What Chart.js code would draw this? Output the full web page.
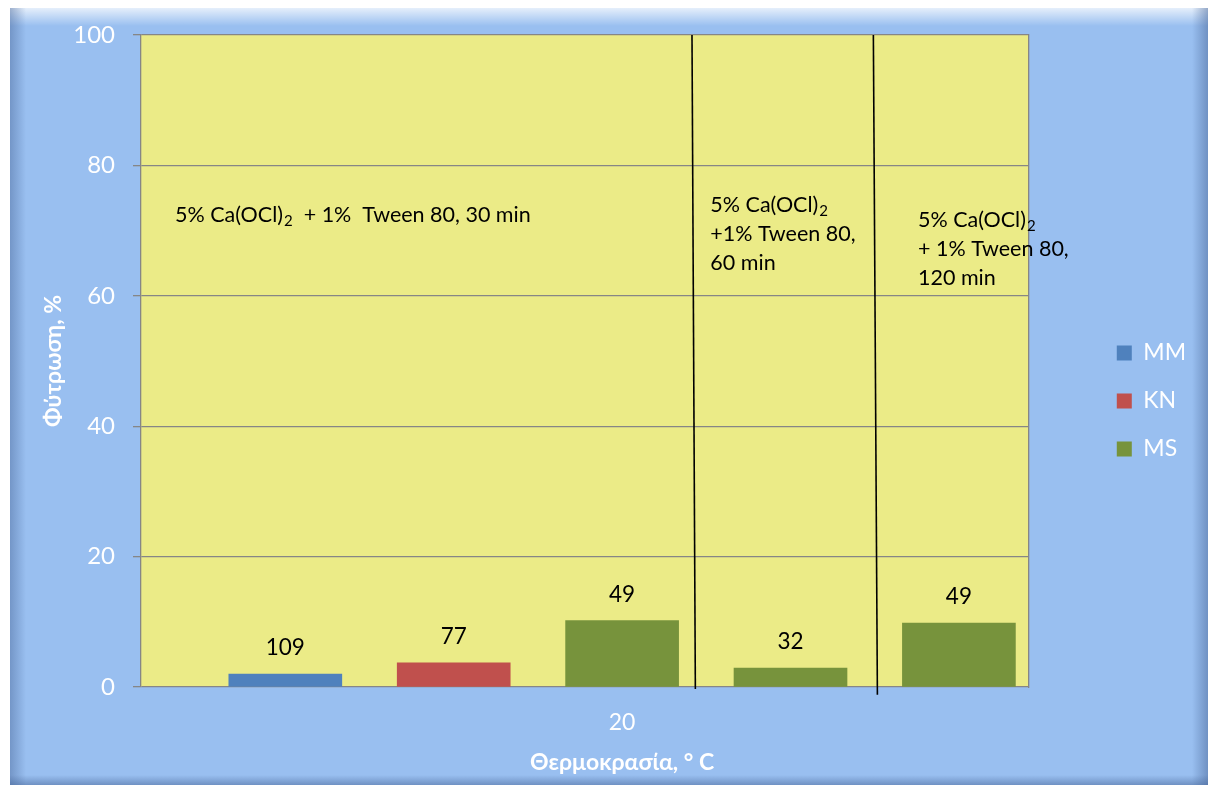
<!DOCTYPE html>
<html>
<head>
<meta charset="utf-8">
<script src="https://cdn.jsdelivr.net/npm/chart.js@4.4.1/dist/chart.umd.min.js"></script>
<style>
  html, body { margin: 0; padding: 0; background: #ffffff; }
  #wrap { width: 1213px; height: 787px; }
</style>
</head>
<body>
<div id="wrap"><canvas id="c" width="1213" height="787"></canvas></div>
<script>
// ---------- data ----------
const categories = ['20'];
const seriesNames = ['MM', 'KN', 'MS'];
const mmValues = [2.0];
const knValues = [3.7];
const msValues = [10.2, 2.9, 9.8];
const mmCounts = [109];
const knCounts = [77];
const msCounts = [49, 32, 49];
const mmSlots = [1];
const knSlots = [2];
const msSlots = [3, 4, 5];
const categorySlot = 3;
const yTicks = [0, 20, 40, 60, 80, 100];
const xTitle = 'Θερμοκρασία, ° C';
const yTitle = 'Φύτρωση, %';

// annotation texts (treatment descriptions)
const notes = [
  { x: 0.345, y: 72.4, lines: [['5% Ca(OCl)', '2', '  + 1%  Tween 80, 30 min']] },
  { x: 3.524, y: 73.9, lines: [['5% Ca(OCl)', '2', ''], ['+1% Tween 80,'], ['60 min']] },
  { x: 4.757, y: 71.6, lines: [['5% Ca(OCl)', '2', ''], ['+ 1% Tween 80,'], ['120 min']] }
];
// divider lines (data coords): bottom and top
const dividers = [
  { x0: 3.435, y0: -0.3, x1: 3.415, y1: 100 },
  { x0: 4.516, y0: -1.2, x1: 4.492, y1: 100 }
];

Chart.defaults.font.family = 'Lato, "Open Sans", sans-serif';

const toPts = (slots, vals) => slots.map((s, i) => ({ x: s, y: vals[i] }));

const framePlugin = {
  id: 'frame',
  beforeDraw(chart) {
    const ctx = chart.ctx;
    const L = 10, T = 8, R = 1208, B = 785;
    ctx.save();
    ctx.fillStyle = '#ffffff';
    ctx.fillRect(0, 0, chart.width, chart.height);
    ctx.fillStyle = '#99bff0';
    ctx.fillRect(L, T, R - L, B - T);
    let g = ctx.createLinearGradient(0, T, 0, T + 18);
    g.addColorStop(0, 'rgba(255,255,255,0.75)');
    g.addColorStop(1, 'rgba(255,255,255,0)');
    ctx.fillStyle = g; ctx.fillRect(L, T, R - L, 18);
    g = ctx.createLinearGradient(L, 0, L + 16, 0);
    g.addColorStop(0, 'rgba(70,100,150,0.45)');
    g.addColorStop(1, 'rgba(70,100,150,0)');
    ctx.fillStyle = g; ctx.fillRect(L, T, 16, B - T);
    g = ctx.createLinearGradient(R, 0, R - 16, 0);
    g.addColorStop(0, 'rgba(70,100,150,0.5)');
    g.addColorStop(1, 'rgba(70,100,150,0)');
    ctx.fillStyle = g; ctx.fillRect(R - 16, T, 16, B - T);
    g = ctx.createLinearGradient(0, B, 0, B - 10);
    g.addColorStop(0, 'rgba(70,100,150,0.5)');
    g.addColorStop(1, 'rgba(70,100,150,0)');
    ctx.fillStyle = g; ctx.fillRect(L, B - 10, R - L, 10);
    const a = chart.chartArea;
    ctx.fillStyle = '#ebeb87';
    ctx.fillRect(a.left, a.top, a.right - a.left, a.bottom - a.top);
    ctx.restore();
  }
};

const labelPlugin = {
  id: 'barLabels',
  afterDatasetsDraw(chart) {
    const ctx = chart.ctx;
    const countSets = [mmCounts, knCounts, msCounts];
    ctx.save();
    ctx.fillStyle = '#000';
    ctx.font = '22.5px Lato, sans-serif';
    ctx.textAlign = 'center';
    ctx.textBaseline = 'middle';
    chart.data.datasets.forEach((ds, di) => {
      const meta = chart.getDatasetMeta(di);
      meta.data.forEach((el, i) => {
        ctx.fillText(String(countSets[di][i]), el.x, el.y - 26);
      });
    });
    ctx.restore();
  }
};

const notePlugin = {
  id: 'notes',
  afterDraw(chart) {
    const ctx = chart.ctx;
    const xs = chart.scales.x, ys = chart.scales.y;
    ctx.save();
    // x axis title, centred under the category tick
    ctx.fillStyle = '#ffffff';
    ctx.font = 'bold 23px Lato, sans-serif';
    ctx.textAlign = 'center';
    ctx.textBaseline = 'middle';
    ctx.fillText(xTitle, xs.getPixelForValue(categorySlot), xs.bottom - 4);
    // dividers
    ctx.strokeStyle = '#000';
    ctx.lineWidth = 1.6;
    dividers.forEach(d => {
      ctx.beginPath();
      ctx.moveTo(xs.getPixelForValue(d.x0), ys.getPixelForValue(d.y0));
      ctx.lineTo(xs.getPixelForValue(d.x1), ys.getPixelForValue(d.y1));
      ctx.stroke();
    });
    // notes
    ctx.fillStyle = '#000';
    ctx.textBaseline = 'middle';
    ctx.textAlign = 'left';
    notes.forEach(n => {
      const x0 = xs.getPixelForValue(n.x);
      let y = ys.getPixelForValue(n.y);
      n.lines.forEach(parts => {
        let x = x0;
        ctx.font = '21.5px Lato, sans-serif';
        ctx.fillText(parts[0], x, y);
        x += ctx.measureText(parts[0]).width;
        if (parts.length > 1) {
          ctx.font = '15px Lato, sans-serif';
          ctx.fillText(parts[1], x + 1, y + 6);
          x += ctx.measureText(parts[1]).width + 1;
          ctx.font = '21.5px Lato, sans-serif';
          ctx.fillText(parts[2], x, y);
        }
        y += 29;
      });
    });
    ctx.restore();
  }
};

new Chart(document.getElementById('c'), {
  type: 'bar',
  data: {
    datasets: [
      { label: seriesNames[0], data: toPts(mmSlots, mmValues), backgroundColor: '#4f81bd', borderWidth: 0 },
      { label: seriesNames[1], data: toPts(knSlots, knValues), backgroundColor: '#c0504d', borderWidth: 0 },
      { label: seriesNames[2], data: toPts(msSlots, msValues), backgroundColor: '#77933c', borderWidth: 0 }
    ]
  },
  options: {
    responsive: false,
    animation: false,
    devicePixelRatio: 1,
    layout: { padding: { top: 35, left: 0, right: 17, bottom: 20 } },
    datasets: { bar: { grouped: false, barThickness: 113 } },
    plugins: {
      legend: {
        position: 'right',
        align: 'center',
        labels: { color: '#ffffff', font: { size: 23 }, boxWidth: 15, boxHeight: 15, padding: 25 }
      },
      tooltip: { enabled: false }
    },
    scales: {
      x: {
        type: 'linear',
        offset: false,
        min: 0.143,
        max: 5.415,
        afterBuildTicks: s => { s.ticks = [{ value: categorySlot }]; },
        ticks: { callback: () => categories[0], color: '#ffffff', font: { size: 23 }, padding: 14, maxRotation: 0 },
        grid: { display: false },
        border: { display: false },
        title: { display: false },
        afterFit: s => { s.height = 80; }
      },
      y: {
        min: 0,
        max: 100,
        afterBuildTicks: s => { s.ticks = yTicks.map(v => ({ value: v })); },
        ticks: { color: '#ffffff', font: { size: 24 }, padding: 18 },
        grid: { color: '#868686', lineWidth: 1.3, tickLength: 8 },
        border: { color: '#868686', width: 1.3 },
        title: { display: true, text: yTitle, color: '#ffffff', font: { size: 23, weight: 'bold' }, padding: { top: 40, bottom: 0 } },
        afterFit: s => { s.width = 141; }
      },
      y2: {
        type: 'linear',
        position: 'right',
        display: true,
        grid: { display: false },
        ticks: { display: false },
        border: { display: true, color: '#868686', width: 1.3 },
        afterFit: s => { s.width = 63; }
      }
    }
  },
  plugins: [framePlugin, labelPlugin, notePlugin]
});
</script>
</body>
</html>
